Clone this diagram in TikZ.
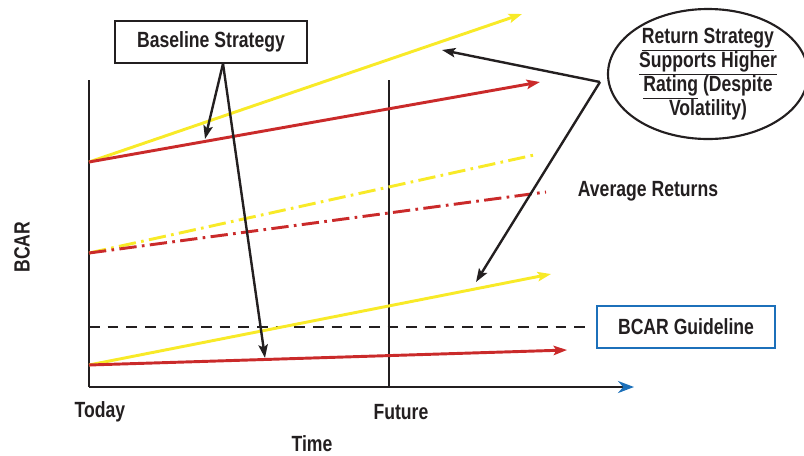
\documentclass[tikz,border=0pt]{standalone}
\usepackage{fontspec}
\setmainfont{Liberation Sans}[FakeStretch=0.8]
\usetikzlibrary{arrows.meta,shapes.geometric}
\definecolor{bcyellow}{RGB}{248,234,40}
\definecolor{bcred}{RGB}{202,42,42}
\definecolor{bcblue}{RGB}{28,112,186}
\definecolor{bcink}{RGB}{35,31,32}
\tikzset{
  growth/.style={line width=2.2pt,-{Stealth[length=10pt,width=7pt,inset=2pt]}},
  average/.style={line width=2.2pt,dash pattern=on 13pt off 4pt on 2pt off 4pt},
  pointer/.style={bcink,line width=1.8pt,-{Stealth[length=10pt,width=7pt,inset=2pt]}},
  axis/.style={bcink,line width=2.2pt},
  label/.style={font=\fontsize{16.5}{18}\selectfont\bfseries,text=bcink,inner sep=0pt}
}
\begin{document}
\begin{tikzpicture}[x=0.75pt,y=-0.75pt]
\useasboundingbox (0,0) rectangle (804,455);
% axes
\coordinate (origin) at (89,387);
\coordinate (ytop) at (89,80);
\coordinate (xend) at (634,387);
\coordinate (fbot) at (389,387);
\coordinate (ftop) at (389,80);
\draw[axis] (ytop) -- (origin);
\draw[axis,-{Stealth[length=12pt,width=9pt,color=bcblue]}] (origin) -- (xend);
\draw[axis,line width=1.8pt] (ftop) -- (fbot);
\node[label] (today) at (100,412) {Today};
\node[label] (future) at (401,412) {Future};
\node[label] (time) at (312,444) {Time};
\node[label,rotate=90] (bcar) at (22,247) {BCAR};
% start points
\coordinate (hi) at (89,162);
\coordinate (mid) at (89,253);
\coordinate (lo) at (89,365);
% end points
\coordinate (hi-y) at (522,14);
\coordinate (hi-r) at (540,82);
\coordinate (mid-y) at (534,155);
\coordinate (mid-r) at (546,192);
\coordinate (lo-y) at (551,274);
\coordinate (lo-r) at (567,350);
% guideline
\coordinate (gl-a) at (89,327);
\coordinate (gl-b) at (585,327);
\draw[bcink,line width=2pt,dash pattern=on 8pt off 6pt] (gl-a) -- (gl-b);
\node[label,draw=bcblue,line width=1.6pt,minimum width=133pt,minimum height=31pt] (guide) at (686,327) {BCAR Guideline};
% returns
\draw[growth,bcyellow] (hi) -- (hi-y);
\draw[growth,bcred] (hi) -- (hi-r);
\draw[average,bcyellow] (mid) -- (mid-y);
\draw[average,bcred] (mid) -- (mid-r);
\draw[growth,bcyellow] (lo) -- (lo-y);
\draw[growth,bcred] (lo) -- (lo-r);
\node[label] (avg) at (648,191) {Average Returns};
% callouts
\node[label,draw=bcink,line width=1.6pt,minimum width=144pt,minimum height=31pt] (baseline) at (211,42) {Baseline Strategy};
\coordinate (bs-hi) at (205,139);
\coordinate (bs-lo) at (265,358);
\draw[pointer] ([xshift=9pt]baseline.south) -- (bs-hi);
\draw[pointer] ([xshift=9pt]baseline.south) -- (bs-lo);
\node[label,ellipse,draw=bcink,line width=1.6pt,minimum width=150pt,minimum height=83pt,align=center] (ret) at (708,74)
  {\underline{Return Strategy}\\ \underline{Supports Higher}\\ \underline{Rating} (Despite\\ Volatility)};
\coordinate (elbow) at (600,82);
\coordinate (rs-hi) at (442,50);
\coordinate (rs-lo) at (476,282);
\draw[pointer] (elbow) -- (rs-hi);
\draw[pointer] (elbow) -- (rs-lo);
\end{tikzpicture}
\end{document}
